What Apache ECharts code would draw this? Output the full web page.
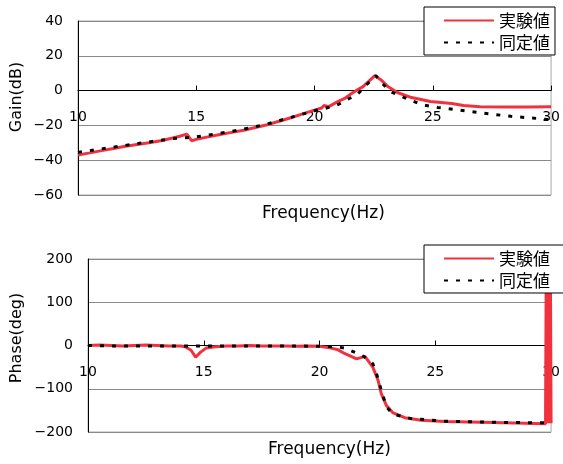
<!DOCTYPE html>
<html lang="ja">
<head>
<meta charset="utf-8">
<title>Gain / Phase</title>
<script src="https://cdn.jsdelivr.net/npm/echarts@6/dist/echarts.min.js"></script>
<style>
html,body{margin:0;padding:0;background:#fff;}
#main{width:563px;height:464px;}
</style>
</head>
<body>
<div id="main"></div>
<script>
// gain (dB)
var gainMeasFreq = [10, 10.5, 11, 11.5, 12, 12.5, 13, 13.5, 14, 14.3, 14.6, 14.8, 15, 15.5, 16, 16.5, 17, 17.5, 18, 18.5, 19, 19.5, 20, 20.3, 20.4, 20.6, 21, 21.3, 21.5, 21.8, 22.05, 22.3, 22.55, 22.8, 23.1, 23.5, 24.1, 24.9, 25.8, 26.3, 27, 28, 29, 30];
var gainMeas     = [-37, -35.8, -34.5, -33.3, -32, -31, -30, -28.8, -27.2, -26.2, -25, -28.8, -28, -26.6, -25.2, -24, -22.8, -21.2, -19.6, -17.6, -15.6, -13.4, -11.2, -10, -8.6, -9.2, -6.2, -4.3, -2.3, 0.3, 2.3, 5.4, 8.6, 6.3, 2.3, -1.1, -4, -6.3, -7.4, -8.6, -9.3, -9.4, -9.4, -9.3];
var gainFitFreq  = [10, 11, 12, 13, 14, 15, 16, 17, 18, 19, 20, 20.5, 21, 21.4, 21.8, 22.2, 22.6, 22.8, 23.2, 23.8, 24.5, 25.2, 26, 26.9, 28.3, 29.4, 30];
var gainFit      = [-35.5, -33.5, -31.5, -29.5, -27.6, -26.6, -24.6, -22.2, -19.2, -15.4, -11.6, -10, -8, -5, -2.3, 3.4, 8.6, 5, -0.5, -4, -8, -9.7, -11, -12.6, -14.8, -16, -16.8];

// phase (deg) - wraps back and forth between -180 and 180 near 30 Hz
var phaseMeasFreq = [10, 10.5, 11, 11.5, 12, 12.5, 13, 13.5, 14, 14.2, 14.45, 14.65, 14.85, 15.1, 15.5, 16, 16.5, 17, 17.5, 18, 18.5, 19, 19.5, 20, 20.5, 20.8, 21.1, 21.6, 21.96, 22.3, 22.53, 22.67, 22.89, 23.18, 23.68, 24.39, 25.4, 27.5, 29.76, 29.79, 29.82, 29.85, 29.88, 29.91, 29.94, 29.97, 30];
var phaseMeas     = [0, 1, 0, -1, 0, 1, 0, -1, -1, -3, -11, -27, -16, -6, -3, -1, -1, 0, -1, -1, -1, -2, -1, -2, -6, -10, -19, -31, -25, -50, -81, -112, -139, -156, -167, -173, -176, -178, -181, 180, -180, 180, -180, 180, -180, 180, -180];
var phaseFitFreq  = [10, 11, 12, 13, 14, 15, 16, 17, 18, 19, 20, 20.7, 21.1, 21.4, 21.9, 22.3, 22.46, 22.67, 22.89, 23.18, 23.96, 25.4, 28.2, 30];
var phaseFit      = [0, -1, -1, -1, -1, -1, -1, -1, -1, -1, -2, -3, -6, -13, -25, -42, -65, -104, -142, -159, -169, -175, -178, -179];

var names = ['実験値', '同定値'];
var red = '#f0323f';

// y ranges and grid heights
var gainMin = -60, gainMax = 40, phaseMin = -200, phaseMax = 200;
var topH = 174, botH = 173;

function pairs(xs, ys) {
  var out = [];
  for (var i = 0; i < xs.length; i++) out.push([xs[i], ys[i]]);
  return out;
}
function minus(v) { return String(v).replace('-', '\u2212'); }

var font = 'DejaVu Sans, "Noto Sans CJK JP", sans-serif';

// x axis sits on y = 0 : shift it up from the grid bottom
function xAxisAt(gi, min, max, h) {
  return {
    gridIndex: gi, type: 'value', min: 10, max: 30, interval: 5, z: 3,
    offset: -(0 - min) / (max - min) * h,
    axisLine: { onZero: false, lineStyle: { color: '#000', width: 1 } },
    axisTick: { show: true, inside: true, length: 5, lineStyle: { color: '#000' } },
    axisLabel: { color: '#000', fontSize: 14, fontFamily: font, margin: 20 },
    splitLine: { show: false }
  };
}
function yAxisAt(gi, min, max, step) {
  return {
    gridIndex: gi, type: 'value', min: min, max: max, interval: step,
    axisLine: { show: true, onZero: false, lineStyle: { color: '#000', width: 1 } },
    axisTick: { show: false },
    axisLabel: { color: '#000', fontSize: 14, fontFamily: font, margin: 15, formatter: minus },
    splitLine: { show: true, lineStyle: { color: '#8a8a8a', width: 1 } }
  };
}

function legendAt(top, padRight) {
  return {
    data: names, orient: 'vertical', left: 424, top: top,
    padding: [5, padRight, 4, 19], itemWidth: 50, itemHeight: 14, itemGap: 5,
    backgroundColor: '#fff', borderColor: '#000', borderWidth: 1, borderRadius: 0,
    itemStyle: { opacity: 0 },
    textStyle: { color: '#000', fontSize: 17, fontFamily: '"Noto Sans CJK JP", sans-serif' },
    selectedMode: false
  };
}

var myChart = echarts.init(document.getElementById('main'));
myChart.setOption({
  animation: false,
  backgroundColor: '#fff',
  grid: [
    { left: 78, right: 9, top: 21, height: topH, show: true, borderColor: '#aaa', borderWidth: 1 },
    { left: 88, right: 9, top: 259, height: botH, show: true, borderColor: '#aaa', borderWidth: 1 }
  ],
  xAxis: [
    xAxisAt(0, gainMin, gainMax, topH),
    xAxisAt(1, phaseMin, phaseMax, botH)
  ],
  yAxis: [
    yAxisAt(0, gainMin, gainMax, 20),
    yAxisAt(1, phaseMin, phaseMax, 100)
  ],
  legend: [legendAt(7, 5), legendAt(245, 20)],
  graphic: [
    { type: 'text', x: 17, y: 97, rotation: Math.PI / 2,
      style: { text: 'Gain(dB)', font: '16px DejaVu Sans', fill: '#000', textAlign: 'center', textVerticalAlign: 'middle' } },
    { type: 'text', x: 17, y: 338, rotation: Math.PI / 2,
      style: { text: 'Phase(deg)', font: '16px DejaVu Sans', fill: '#000', textAlign: 'center', textVerticalAlign: 'middle' } },
    { type: 'text', x: 262, y: 205,
      style: { text: 'Frequency(Hz)', font: '17px DejaVu Sans', fill: '#000' } },
    { type: 'text', x: 268, y: 441,
      style: { text: 'Frequency(Hz)', font: '17px DejaVu Sans', fill: '#000' } }
  ],
  series: [
    { name: names[0], type: 'line', xAxisIndex: 0, yAxisIndex: 0, symbol: 'none',
      lineStyle: { color: red, width: 3 }, itemStyle: { color: red },
      data: pairs(gainMeasFreq, gainMeas) },
    { name: names[1], type: 'line', xAxisIndex: 0, yAxisIndex: 0, symbol: 'none',
      lineStyle: { color: '#000', width: 3, type: [4, 8] }, itemStyle: { color: '#000' },
      data: pairs(gainFitFreq, gainFit) },
    { name: names[0], type: 'line', xAxisIndex: 1, yAxisIndex: 1, symbol: 'none',
      lineStyle: { color: red, width: 3 }, itemStyle: { color: red },
      data: pairs(phaseMeasFreq, phaseMeas) },
    { name: names[1], type: 'line', xAxisIndex: 1, yAxisIndex: 1, symbol: 'none',
      lineStyle: { color: '#000', width: 3, type: [4, 8] }, itemStyle: { color: '#000' },
      data: pairs(phaseFitFreq, phaseFit) }
  ]
});
</script>
</body>
</html>
